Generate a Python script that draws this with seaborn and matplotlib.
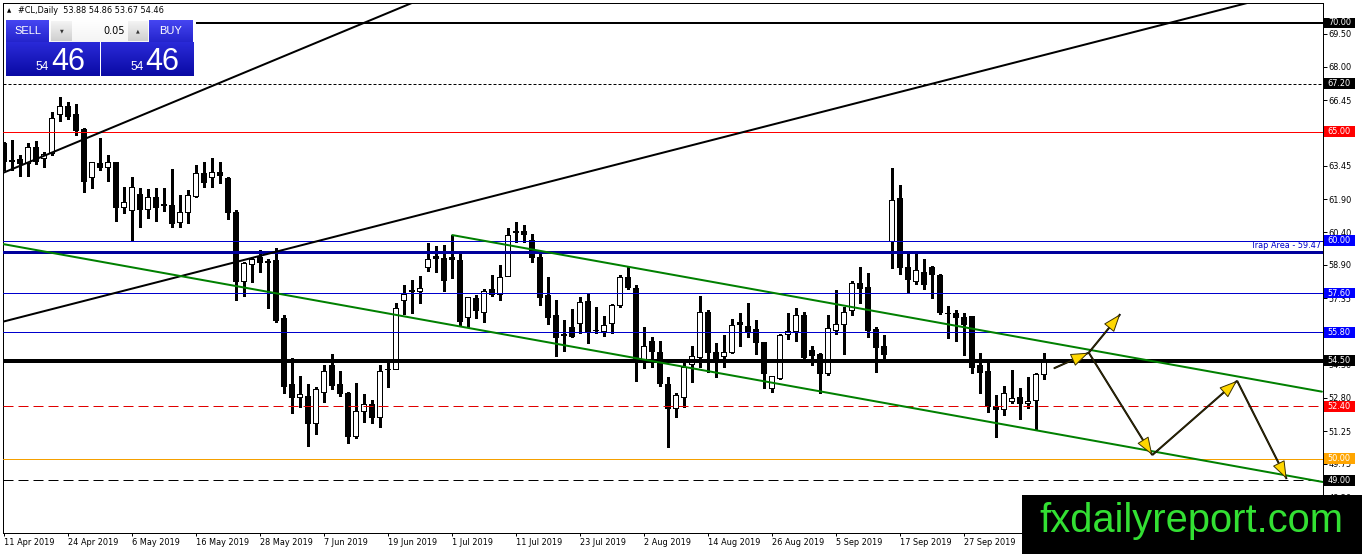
import numpy as np
import matplotlib
matplotlib.use("Agg")
import matplotlib.pyplot as plt
import matplotlib.transforms as mtransforms
from matplotlib.patches import Rectangle
import seaborn as sns

# ---------------- data ----------------
symbol = "#CL,Daily"
opens = [64.49, 63.70, 63.75, 63.57, 64.30, 63.80, 64.03, 65.82, 66.18, 65.82,
         65.13, 62.92, 63.57, 63.38, 63.61, 61.55, 61.41, 62.14, 61.46, 62.01,
         61.68, 61.64, 60.86, 61.32, 62.05, 63.11, 62.92, 63.15, 62.88, 61.32,
         58.15, 58.93, 59.25, 59.09, 59.11, 56.45, 53.42, 52.82, 52.87, 51.63,
         53.05, 54.29, 53.42, 53.01, 51.03, 52.18, 52.50, 51.91, 54.11, 54.11,
         57.28, 57.74, 57.69, 58.79, 59.30, 59.21, 59.25, 59.11, 56.50, 57.37,
         56.73, 57.78, 57.55, 58.38, 60.45, 60.45, 60.03, 59.25, 57.51, 56.59,
         55.72, 56.04, 56.22, 57.23, 55.90, 55.85, 56.22, 57.05, 58.33, 57.83,
         54.57, 55.40, 54.89, 53.42, 52.32, 52.82, 54.34, 54.66, 56.73, 54.89,
         54.71, 54.89, 56.27, 56.08, 55.95, 55.35, 53.24, 53.70, 55.72, 55.85,
         56.59, 54.98, 54.80, 53.93, 55.90, 56.18, 56.82, 58.06, 57.87, 55.95,
         55.17, 59.99, 61.96, 58.79, 58.15, 58.56, 58.79, 58.43, 56.68, 56.68,
         56.50, 56.54, 54.29, 54.02, 52.41, 52.27, 52.64, 52.82, 52.55, 52.69,
         53.88]
highs = [64.55, 64.62, 63.93, 64.49, 64.58, 64.07, 65.91, 66.60, 66.37, 66.28,
         65.17, 63.63, 64.71, 63.93, 63.63, 62.47, 62.92, 62.42, 62.37, 62.42,
         62.42, 63.29, 62.10, 62.33, 63.47, 63.61, 63.80, 63.61, 62.92, 61.41,
         59.02, 59.25, 59.57, 59.16, 59.66, 56.59, 54.61, 53.79, 53.42, 53.28,
         54.29, 54.80, 54.02, 53.05, 53.47, 52.96, 52.69, 54.29, 54.43, 57.14,
         57.97, 58.20, 58.38, 59.89, 59.76, 59.80, 60.26, 59.48, 57.43, 57.51,
         57.78, 58.43, 58.88, 60.58, 60.86, 60.72, 60.31, 59.48, 58.33, 57.28,
         56.36, 56.86, 57.42, 57.60, 56.96, 56.54, 57.09, 58.43, 58.79, 57.97,
         56.04, 55.58, 55.40, 53.74, 53.01, 54.52, 55.17, 57.46, 56.82, 55.30,
         55.67, 56.40, 56.68, 57.14, 56.36, 55.37, 53.81, 55.72, 56.68, 56.91,
         56.73, 55.17, 54.84, 56.59, 57.74, 56.96, 58.15, 58.79, 58.52, 56.04,
         55.67, 63.34, 62.56, 59.43, 59.43, 59.16, 58.84, 58.47, 57.00, 56.82,
         56.68, 56.56, 54.84, 54.39, 52.92, 53.33, 54.06, 53.24, 53.74, 53.93,
         54.86]
lows = [63.25, 63.25, 62.97, 62.97, 63.52, 63.38, 63.93, 65.50, 65.59, 64.85,
        62.24, 62.42, 63.25, 62.74, 60.90, 61.27, 59.99, 60.63, 61.04, 60.90,
        61.36, 60.63, 60.63, 60.81, 62.01, 62.47, 62.47, 62.65, 61.00, 57.28,
        57.46, 58.10, 58.56, 56.91, 56.27, 53.01, 52.09, 52.37, 50.57, 51.13,
        52.59, 53.19, 52.87, 50.71, 50.94, 51.68, 51.63, 51.45, 53.28, 54.09,
        56.63, 56.68, 57.14, 58.61, 58.56, 57.69, 58.29, 56.13, 56.04, 56.45,
        56.27, 57.46, 57.28, 58.36, 59.94, 59.94, 59.02, 57.05, 56.18, 54.71,
        54.94, 55.60, 55.76, 55.30, 55.76, 55.62, 55.76, 56.96, 57.78, 53.56,
        54.16, 54.20, 53.33, 50.53, 51.91, 52.37, 53.51, 54.20, 53.97, 53.74,
        54.20, 54.84, 55.17, 55.58, 54.80, 53.24, 53.05, 53.65, 55.49, 55.40,
        54.52, 54.29, 53.01, 53.83, 55.72, 54.80, 56.59, 57.14, 55.58, 53.97,
        54.43, 58.75, 58.47, 57.60, 58.01, 57.78, 57.37, 56.63, 55.53, 55.40,
        54.75, 53.93, 53.01, 52.14, 50.99, 52.00, 52.55, 51.81, 52.32, 51.36,
        53.67]
closes = [63.66, 63.66, 63.57, 64.30, 63.66, 63.98, 65.63, 66.18, 65.72, 65.08,
          62.74, 63.61, 63.38, 63.61, 61.55, 61.78, 62.47, 61.46, 62.01, 61.55,
          61.64, 60.81, 61.32, 62.10, 63.11, 62.69, 63.15, 63.02, 61.32, 58.15,
          58.98, 59.16, 59.02, 59.04, 56.36, 53.33, 52.82, 52.96, 51.63, 53.19,
          54.02, 53.38, 53.01, 51.03, 52.18, 52.50, 51.91, 54.02, 54.09, 56.91,
          57.55, 57.71, 57.83, 59.16, 59.21, 58.20, 59.16, 56.31, 57.42, 56.82,
          57.69, 57.55, 58.33, 60.26, 60.42, 60.31, 59.25, 57.42, 56.50, 55.58,
          55.69, 55.62, 57.19, 55.85, 55.88, 56.13, 57.05, 58.33, 57.87, 54.48,
          55.17, 54.94, 53.47, 52.32, 52.92, 54.20, 54.71, 56.73, 54.89, 54.61,
          54.89, 56.13, 56.18, 55.81, 55.35, 53.93, 53.79, 55.67, 55.85, 56.59,
          54.66, 54.75, 53.93, 55.99, 56.18, 56.73, 58.06, 57.83, 55.90, 55.12,
          54.80, 61.87, 58.79, 58.24, 58.65, 58.01, 58.47, 56.73, 56.66, 56.50,
          56.18, 54.20, 53.97, 52.41, 52.27, 53.01, 52.78, 52.55, 52.64, 53.88,
          54.46]

date_labels = ["11 Apr 2019", "24 Apr 2019", "6 May 2019", "16 May 2019",
               "28 May 2019", "7 Jun 2019", "19 Jun 2019", "1 Jul 2019",
               "11 Jul 2019", "23 Jul 2019", "2 Aug 2019", "14 Aug 2019",
               "26 Aug 2019", "5 Sep 2019", "17 Sep 2019", "27 Sep 2019"]
date_step = 8
price_ticks = [69.50, 68.00, 66.45, 64.95, 63.45, 61.90, 60.40, 58.90, 57.35,
               55.85, 54.30, 52.80, 51.25, 49.75, 48.20]

# horizontal levels: price, line colour, style, width(px), label box colour
level_prices = [70.00, 67.20, 65.00, 60.00, 57.60, 55.80, 54.50, 52.40, 50.00, 49.00]
level_colors = ["black", "black", "#FF0000", "#0000CD", "#0000CD", "#0000CD",
                "black", "#E00000", "#F5A000", "black"]
level_styles = ["-", (0, (3, 2)), "-", "-", "-", "-", "-", (0, (10, 5)), "-", (0, (10, 5))]
level_widths = [2.0, 1.0, 1.0, 1.0, 1.0, 1.0, 2.5, 1.0, 1.0, 1.0]
box_colors = ["black", "black", "#FF0000", "#0000FF", "#0000FF", "#0000FF",
              "black", "#FF0000", "#FFA500", "black"]
trap_price = 59.47
trap_label = "Trap Area - 59.47"

# trend lines (bar index, price)
black_line_1 = [(-0.1, 63.11), (51.0, 70.91)]
black_line_2 = [(-0.1, 56.28), (155.4, 70.91)]
green_lower = [(-0.1, 59.85), (164.8, 48.93)]
green_upper = [(56.1, 60.26), (164.8, 53.07)]

# forecast arrows (bar index, price)
fc_start = (131.3, 54.14)
fc_joint = (135.66, 54.86)
fc_up = (139.6, 56.63)
fc_down1 = (143.6, 50.16)
fc_up2 = (154.2, 53.57)
fc_down2 = (160.4, 49.06)
arrow_segments = [(fc_start, fc_joint), (fc_joint, fc_up), (fc_joint, fc_down1),
                  (fc_down1, fc_up2), (fc_up2, fc_down2)]

watermark = "fxdailyreport.com"

# ---------------- style ----------------
sns.set_theme(style="white")
plt.rcParams["font.family"] = ["DejaVu Sans"]
plt.rcParams["axes.linewidth"] = 0.72
plt.rcParams["axes.edgecolor"] = "black"

W, H = 1362, 554
PX = 0.72  # one pixel in points at dpi 100
fig = plt.figure(figsize=(W / 100, H / 100), dpi=100)
fig.patch.set_facecolor("white")
ax = fig.add_axes([2.7 / W, 21 / H, (1322.7 - 2.7) / W, 530.3 / H])
ax.set_facecolor("white")
ax.set_xlim(-0.1, 164.9)
ax.set_ylim(46.58, 70.93)

def fx(x):
    return x / W

def fy(y):
    return 1 - y / H

# ---------------- candles ----------------
o = np.array(opens)
h = np.array(highs)
l = np.array(lows)
c = np.array(closes)
idx = np.arange(len(o))
up = c >= o
ax.vlines(idx, l, h, color="black", lw=1.0, zorder=2, antialiased=False)
ax.bar(idx[up], (c - o)[up], bottom=o[up], width=0.6, facecolor="white",
       edgecolor="black", linewidth=PX, zorder=3, antialiased=False)
ax.bar(idx[~up], (o - c)[~up], bottom=c[~up], width=0.6, facecolor="black",
       edgecolor="black", linewidth=PX, zorder=3, antialiased=False)

# ---------------- levels ----------------
for p, col, ls, wd in zip(level_prices, level_colors, level_styles, level_widths):
    thin = wd <= 1.0
    ax.axhline(p, color=col, linestyle=ls, lw=wd * PX, zorder=4,
               antialiased=thin, snap=True)
ax.axhline(trap_price, color="#00009C", lw=3 * PX, zorder=4, antialiased=False)

blend = mtransforms.blended_transform_factory(ax.transAxes, ax.transData)
ax.text(0.9985, trap_price + 0.12, trap_label, transform=blend, ha="right",
        va="bottom", fontsize=5.9, color="#0000C8", zorder=5)

# trend lines
for pts, col in [(black_line_1, "black"), (black_line_2, "black"), (green_lower, "#008000")]:
    ax.axline(pts[0], pts[1], color=col, lw=2 * PX, zorder=4)
ax.plot([green_upper[0][0], green_upper[1][0]], [green_upper[0][1], green_upper[1][1]],
        color="#008000", lw=2 * PX, zorder=4)

# arrows
for a, b in arrow_segments:
    ax.plot([a[0], b[0]], [a[1], b[1]], color="black", lw=2 * PX,
            solid_capstyle="butt", zorder=6)
    ax.annotate("", xy=b, xytext=a,
                arrowprops=dict(arrowstyle="-|>,head_length=1.15,head_width=0.42",
                                mutation_scale=10, fc="#FFD700", ec="#3a3000",
                                lw=0.7, shrinkA=0, shrinkB=0), zorder=7)

# ---------------- axes / ticks ----------------
for s in ["left", "bottom", "right", "top"]:
    ax.spines[s].set_visible(True)
    ax.spines[s].set_color("black")
    ax.spines[s].set_linewidth(PX)

ax.set_xticks(np.arange(len(date_labels)) * date_step)
ax.set_xticklabels(date_labels)
for lbl in ax.get_xticklabels():
    lbl.set_ha("left")
ax.tick_params(axis="x", bottom=True, top=False, direction="out", length=2.2,
               width=PX, pad=1.2, labelsize=5.9, colors="black")

ax.yaxis.tick_right()
ax.set_yticks(price_ticks)
ax.set_yticklabels([f"{v:.2f}" for v in price_ticks])
ax.tick_params(axis="y", right=True, left=False, labelright=True, labelleft=False,
               direction="out", length=2.9, width=PX, pad=1.4, labelsize=5.9,
               colors="black")
ax.grid(False)

# price boxes on right scale
box_h = 0.25
for p, bc in zip(level_prices, box_colors):
    ax.add_patch(Rectangle((1.0008, p - box_h), 0.0236, 2 * box_h, transform=blend,
                           facecolor=bc, edgecolor="none", clip_on=False, zorder=8))
    ax.text(1.0126, p, f"{p:.2f}", transform=blend, ha="center", va="center",
            fontsize=5.9, color="white", clip_on=False, zorder=9)

# ---------------- header ----------------
fig.text(fx(7), fy(11), "\u25B2", fontsize=4, color="black", va="center", zorder=10)
fig.text(fx(18), fy(10.5),
         f"{symbol}  {opens[-1]:.2f} {highs[-1]:.2f} {lows[-1]:.2f} {closes[-1]:.2f}",
         fontsize=5.9, color="black", va="center", ha="left", zorder=10)

# ---------------- trade panel ----------------
def rect_px(x0, y0, w, h, **kw):
    r = Rectangle((fx(x0), fy(y0 + h)), w / W, h / H, transform=fig.transFigure, **kw)
    fig.add_artist(r)
    return r

def grad_px(x0, y0, w, h, ctop, cbot, z):
    gax = fig.add_axes([fx(x0), fy(y0 + h), w / W, h / H])
    t = np.linspace(0, 1, 64)[:, None]
    c1 = np.array(matplotlib.colors.to_rgb(ctop))
    c2 = np.array(matplotlib.colors.to_rgb(cbot))
    img = c1[None, None, :] * (1 - t[:, :, None]) + c2[None, None, :] * t[:, :, None]
    gax.imshow(np.repeat(img, 2, axis=1), aspect="auto", extent=[0, 1, 0, 1],
               interpolation="bilinear")
    gax.set_axis_off()
    gax.set_zorder(z)
    return gax

rect_px(3.5, 17, 192, 62, facecolor="white", edgecolor="none", zorder=2)
grad_px(6, 20, 43, 22, "#4646f2", "#2424cc", 5)
grad_px(149, 20, 44, 22, "#4646f2", "#2424cc", 5)
grad_px(6, 42, 93, 34, "#2a2ad8", "#0a0aa4", 5)
grad_px(101, 42, 92, 34, "#2a2ad8", "#0a0aa4", 5)
grad_px(50, 20, 99, 22, "#ffffff", "#f4f4f4", 5)
grad_px(51, 21, 21, 20, "#f4f4f4", "#cfcfcf", 6)
grad_px(128, 21, 20, 20, "#f4f4f4", "#cfcfcf", 6)

ask_big = f"{closes[-1]:.2f}".split(".")
fig.text(fx(27.5), fy(31), "SELL", fontsize=8, color="white", ha="center", va="center",
         family=["Liberation Sans", "DejaVu Sans"], zorder=10)
fig.text(fx(171), fy(31), "BUY", fontsize=8, color="white", ha="center", va="center",
         family=["Liberation Sans", "DejaVu Sans"], zorder=10)
fig.text(fx(125), fy(30.5), "0.05", fontsize=7, color="black", ha="right", va="center",
         zorder=10)
fig.text(fx(61.5), fy(30.5), "\u25BC", fontsize=3.5, color="#333333", ha="center",
         va="center", zorder=10)
fig.text(fx(138), fy(30.5), "\u25B2", fontsize=3.5, color="#333333", ha="center",
         va="center", zorder=10)
for xs, xb in [(49, 51), (143.5, 145.5)]:
    fig.text(fx(xs), fy(70), ask_big[0], fontsize=8.5, color="white", ha="right",
             va="baseline", family=["Liberation Sans", "DejaVu Sans"], zorder=10)
    fig.text(fx(xb), fy(70), ask_big[1], fontsize=22, color="white", ha="left",
             va="baseline", family=["Liberation Sans", "DejaVu Sans"], zorder=10)

# ---------------- watermark ----------------
rect_px(1022, 495, 340, 59, facecolor="black", edgecolor="none", zorder=8)
fig.text(fx(1039), fy(532), watermark, fontsize=28.7, color="#33E033", ha="left",
         va="baseline", family=["Liberation Sans", "DejaVu Sans"], zorder=9)

fig.savefig("out.png", dpi=100, facecolor="white")
